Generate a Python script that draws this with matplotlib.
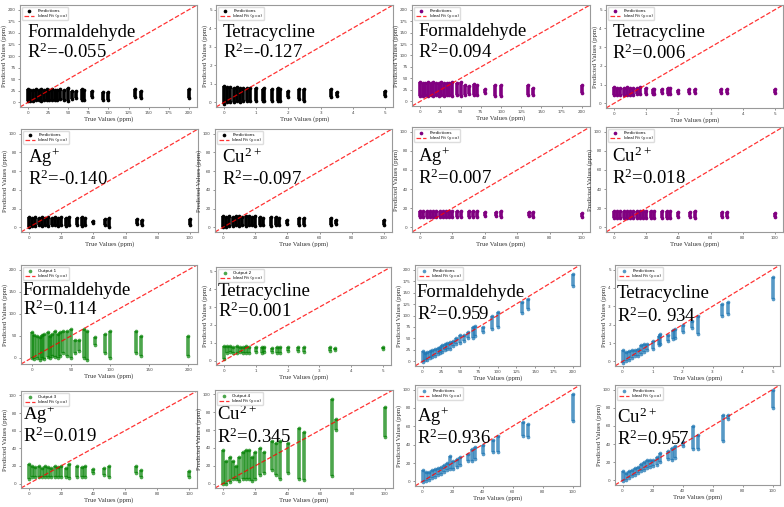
import matplotlib.pyplot as plt

plt.rcParams['mathtext.fontset'] = 'custom'
plt.rcParams['mathtext.rm'] = 'Liberation Serif'
plt.rcParams['mathtext.default'] = 'rm'

# true concentration levels (ppm) for each analyte
F_X = [0, 3, 6, 10, 13, 16, 20, 23, 26, 30, 33, 36, 40, 45, 50, 55, 60, 67, 70, 80, 93, 100, 133, 140, 200]
T_X = [0, 0.1, 0.2, 0.3, 0.4, 0.5, 0.6, 0.7, 0.8, 1.0, 1.2, 1.25, 1.5, 1.67, 1.75, 2.0, 2.33, 2.5, 3.33, 3.5, 5.0]
M_X = [0, 2, 4, 6, 8, 10, 12, 14, 16, 18, 20, 23, 25, 30, 33, 35, 40, 47, 50, 67, 70, 100]

# predicted value spread per level (low / high), one pair per panel
black_f_lo = [3, 4, 4, 5, 5, 4, 5, 5, 6, 6, 5, 6, 7, 6, 4, 8, 9, 5, 5, 12, 5, 6, 12, 10, 10]
black_f_hi = [28, 26, 27, 28, 27, 28, 26, 28, 27, 28, 26, 27, 28, 27, 30, 25, 24, 28, 27, 25, 22, 22, 28, 25, 28]
black_t_lo = [-0.1, 0, 0, 0, 0.05, 0, 0.05, 0.05, 0.1, 0.05, 0.1, 0.05, 0.1, 0.05, 0.05, 0.3, 0.2, 0.1, 0.3, 0.35, 0.35]
black_t_hi = [0.9, 0.85, 0.85, 0.8, 0.85, 0.8, 0.8, 0.75, 0.8, 0.75, 0.7, 0.75, 0.7, 0.75, 0.7, 0.6, 0.7, 0.7, 0.7, 0.55, 0.6]
black_ag_lo = [0, 1, 1, 2, 1, 2, 1, 2, 2, 1, 2, 1, 2, 2, 1, 2, 5, 3, 0, 4, 2, 3]
black_ag_hi = [11, 10, 11, 10, 11, 10, 11, 10, 11, 10, 11, 10, 11, 10, 11, 10, 7, 9, 10, 9, 8, 9]
black_cu_lo = [0, 0, 1, 1, 2, 1, 2, 1, 2, 2, 1, 2, 2, 1, 2, 2, 4, 3, 2, 2, 4, 3]
black_cu_hi = [12, 11, 12, 11, 12, 12, 11, 12, 12, 11, 12, 11, 10, 11, 11, 10, 8, 10, 10, 10, 8, 8]

purple_f_lo = [12, 12, 13, 12, 13, 12, 13, 12, 13, 12, 13, 14, 12, 14, 12, 15, 16, 14, 15, 18, 12, 12, 15, 15, 18]
purple_f_hi = [42, 40, 41, 42, 40, 42, 41, 40, 42, 40, 41, 40, 42, 40, 42, 35, 33, 38, 36, 28, 35, 35, 35, 30, 35]
purple_t_lo = [0.45, 0.45, 0.45, 0.45, 0.45, 0.45, 0.45, 0.5, 0.5, 0.5, 0.5, 0.5, 0.55, 0.5, 0.5, 0.55, 0.55, 0.55, 0.55, 0.55, 0.55]
purple_t_hi = [0.85, 0.8, 0.8, 0.8, 0.85, 0.8, 0.8, 0.8, 0.85, 0.8, 0.75, 0.75, 0.75, 0.8, 0.8, 0.7, 0.75, 0.75, 0.75, 0.75, 0.75]
purple_ag_lo = [11, 11, 11, 11, 11, 11, 11, 11, 11, 11, 11, 11, 11, 11, 11, 11, 12, 12, 11, 12, 11, 11]
purple_ag_hi = [17, 17, 17, 17, 17, 17, 17, 17, 17, 17, 17, 17, 17, 17, 17, 17, 16, 16, 17, 16, 16, 15]
purple_cu_lo = [10, 10, 10, 10, 10, 10, 10, 10, 10, 10, 10, 10, 10, 10, 10, 10, 11, 11, 10, 11, 11, 11]
purple_cu_hi = [17, 17, 17, 17, 17, 17, 17, 17, 17, 17, 17, 17, 17, 17, 17, 17, 16, 16, 17, 16, 16, 15]

green_f_lo = [0, -3, 0, -5, 0, -3, 2, 0, 5, 3, 0, 5, 10, 5, 0, 10, 15, 0, -5, 30, 10, 0, 10, 5, 5]
green_f_hi = [58, 52, 50, 48, 52, 55, 58, 50, 55, 60, 55, 58, 60, 62, 65, 40, 40, 65, 62, 48, 55, 62, 60, 50, 50]
green_t_lo = [0.1, 0.45, 0.5, 0.45, 0.45, 0.5, 0.45, 0.45, 0.45, 0.5, 0.45, 0.5, 0.5, 0.45, 0.45, 0.55, 0.55, 0.5, 0.55, 0.6, 0.65]
green_t_hi = [0.8, 0.8, 0.8, 0.75, 0.8, 0.75, 0.75, 0.8, 0.75, 0.75, 0.75, 0.75, 0.7, 0.75, 0.75, 0.75, 0.75, 0.75, 0.75, 0.7, 0.75]
green_ag_lo = [5, 7, 7, 8, 7, 8, 7, 8, 7, 8, 7, 8, 6, 8, 7, 8, 12, 10, 8, 12, 8, 7]
green_ag_hi = [22, 20, 19, 20, 18, 20, 19, 18, 20, 19, 20, 18, 22, 20, 19, 20, 16, 18, 20, 20, 15, 14]
green_cu_lo = [0, 0, 2, 5, 5, 3, 5, 5, 5, 3, 5, 10, 12, 15, 10, 5, 12, 5, 4, 8, 60, 52]
green_cu_hi = [38, 25, 30, 25, 20, 30, 35, 38, 38, 30, 35, 40, 35, 48, 45, 48, 45, 62, 58, 95, 73, 86]

blue_f_lo = [-2, 2, 4, 8, 10, 12, 16, 18, 20, 25, 27, 28, 33, 38, 40, 45, 50, 50, 55, 65, 70, 75, 105, 115, 165]
blue_f_hi = [22, 18, 20, 22, 25, 26, 30, 32, 35, 38, 40, 42, 45, 50, 58, 58, 65, 75, 78, 75, 100, 108, 130, 135, 190]
blue_t_lo = [-0.1, 0, 0.1, 0.2, 0.3, 0.3, 0.4, 0.5, 0.6, 0.7, 0.9, 0.95, 1.1, 1.2, 1.25, 1.6, 1.8, 1.5, 2.5, 2.6, 3.4]
blue_t_hi = [0.6, 0.5, 0.55, 0.6, 0.6, 0.7, 0.9, 0.95, 0.95, 1.1, 1.4, 1.5, 1.45, 1.7, 1.75, 2.0, 2.2, 2.5, 3.1, 3.25, 4.6]
blue_ag_lo = [-1, 0, 2, 4, 5, 7, 8, 10, 12, 14, 14, 16, 18, 22, 22, 24, 30, 32, 32, 50, 48, 66]
blue_ag_hi = [12, 10, 10, 12, 13, 15, 16, 18, 20, 28, 22, 24, 27, 30, 35, 38, 40, 45, 50, 65, 63, 95]
blue_cu_lo = [-1, 1, 3, 5, 6, 8, 10, 12, 14, 15, 16, 17, 20, 24, 22, 25, 38, 35, 35, 43, 68, 80]
blue_cu_hi = [10, 8, 10, 12, 14, 15, 18, 20, 22, 22, 22, 26, 30, 32, 36, 38, 42, 60, 50, 72, 72, 99]

NAMES = ['Formaldehyde', 'Tetracycline', r'Ag$^{+}$', r'Cu$^{2+}$']
R2_BLACK = ['-0.055', '-0.127', '-0.140', '-0.097']
R2_PURPLE = ['0.094', '0.006', '0.007', '0.018']
R2_GREEN = ['0.114', '0.001', '0.019', '0.345']
R2_BLUE = ['0.959', '0. 934', '0.936', '0.957']
GREEN_LABELS = ['Output 1', 'Output 2', 'Output 3', 'Output 4']

W, H = 784, 507
fig = plt.figure(figsize=(W / 100, H / 100), dpi=100)


def box(l, t, r, b):
    return [l / W, 1 - b / H, (r - l) / W, (b - t) / H]


def panel(rect, xs, lo, hi, color, label, name, r2, lims, ticks,
          txt_x, y1, y2, alpha=1.0, lw=2.6):
    ax = fig.add_axes(box(*rect))
    ax.vlines(xs, lo, hi, colors=color, lw=lw, alpha=alpha)
    ax.scatter(xs, lo, s=7, color=color, alpha=alpha, label=label, lw=0)
    ax.scatter(xs, hi, s=7, color=color, alpha=alpha, lw=0)
    ax.plot(lims, lims, color='red', ls='--', lw=0.9, alpha=0.8, label='Ideal Fit (y=x)')
    ax.set_xlim(lims)
    ax.set_ylim(lims)
    ax.set_xticks(ticks)
    ax.set_yticks(ticks)
    ax.tick_params(labelsize=3, length=1.5, width=0.4, pad=1.5, colors='#444444')
    for s in ax.spines.values():
        s.set_color('#999999')
        s.set_linewidth(0.8)
    ax.set_xlabel('True Values (ppm)', family='Liberation Serif', fontsize=4.8, labelpad=1, color='#333333')
    ax.set_ylabel('Predicted Values (ppm)', family='Liberation Serif', fontsize=4.8, labelpad=1, color='#333333')
    ax.legend(loc='upper left', fontsize=3, markerscale=1.0, handlelength=2.5,
              borderpad=0.4, labelspacing=0.3, framealpha=1, edgecolor='#dddddd')
    ax.text(txt_x, y1, name, transform=ax.transAxes, family='Liberation Serif', fontsize=13.5)
    ax.text(txt_x, y2, 'R$^{2}$=' + r2, transform=ax.transAxes, family='Liberation Serif', fontsize=13.5)
    return ax


F_LIM, T_LIM, M_LIM = (-10, 210), (-0.25, 5.25), (-5, 105)
F_TK = [0, 25, 50, 75, 100, 125, 150, 175, 200]
F_TK_G = [0, 50, 100, 150, 200]
T_TK = [0, 1, 2, 3, 4, 5]
M_TK = [0, 20, 40, 60, 80, 100]

# top-left: black
c = 'black'
panel((20, 5, 197, 107), F_X, black_f_lo, black_f_hi, c, 'Predictions', NAMES[0], R2_BLACK[0], F_LIM, F_TK, 0.04, 0.69, 0.48)
panel((216, 5, 393, 107), T_X, black_t_lo, black_t_hi, c, 'Predictions', NAMES[1], R2_BLACK[1], T_LIM, T_TK, 0.04, 0.69, 0.48)
panel((21, 129, 198, 232), M_X, black_ag_lo, black_ag_hi, c, 'Predictions', NAMES[2], R2_BLACK[2], M_LIM, M_TK, 0.04, 0.67, 0.46)
panel((215, 129, 392, 232), M_X, black_cu_lo, black_cu_hi, c, 'Predictions', NAMES[3], R2_BLACK[3], M_LIM, M_TK, 0.04, 0.67, 0.46)

# top-right: purple
c = 'purple'
panel((412, 5, 590, 106), F_X, purple_f_lo, purple_f_hi, c, 'Predictions', NAMES[0], R2_PURPLE[0], F_LIM, F_TK, 0.035, 0.69, 0.48)
panel((606, 5, 783, 108), T_X, purple_t_lo, purple_t_hi, c, 'Predictions', NAMES[1], R2_PURPLE[1], T_LIM, T_TK, 0.035, 0.69, 0.48)
panel((412, 127, 590, 232), M_X, purple_ag_lo, purple_ag_hi, c, 'Predictions', NAMES[2], R2_PURPLE[2], M_LIM, M_TK, 0.035, 0.67, 0.46)
panel((606, 127, 783, 232), M_X, purple_cu_lo, purple_cu_hi, c, 'Predictions', NAMES[3], R2_PURPLE[3], M_LIM, M_TK, 0.035, 0.67, 0.46)

# bottom-left: green
c = 'green'
panel((21, 265, 197, 364), F_X, green_f_lo, green_f_hi, c, GREEN_LABELS[0], NAMES[0], R2_GREEN[0], (-14, 211), F_TK_G, 0.01, 0.70, 0.49, alpha=0.7)
panel((216, 267, 391, 365), T_X, green_t_lo, green_t_hi, c, GREEN_LABELS[1], NAMES[1], R2_GREEN[1], T_LIM, T_TK, 0.01, 0.70, 0.49, alpha=0.7)
panel((21, 391, 197, 488), M_X, green_ag_lo, green_ag_hi, c, GREEN_LABELS[2], NAMES[2], R2_GREEN[2], M_LIM, M_TK, 0.01, 0.70, 0.47, alpha=0.7)
panel((215, 390, 393, 488), M_X, green_cu_lo, green_cu_hi, c, GREEN_LABELS[3], NAMES[3], R2_GREEN[3], M_LIM, M_TK, 0.01, 0.69, 0.46, alpha=0.7)

# bottom-right: blue
c = '#1f77b4'
panel((415, 265, 580, 366), F_X, blue_f_lo, blue_f_hi, c, 'Predictions', NAMES[0], R2_BLUE[0], F_LIM, F_TK, 0.01, 0.68, 0.46, alpha=0.75)
panel((615, 265, 780, 366), T_X, blue_t_lo, blue_t_hi, c, 'Predictions', NAMES[1], R2_BLUE[1], T_LIM, T_TK, 0.01, 0.67, 0.44, alpha=0.75)
panel((415, 385, 580, 486), M_X, blue_ag_lo, blue_ag_hi, c, 'Predictions', NAMES[2], R2_BLUE[2], M_LIM, M_TK, 0.01, 0.63, 0.42, alpha=0.75)
panel((615, 385, 780, 485), M_X, blue_cu_lo, blue_cu_hi, c, 'Predictions', NAMES[3], R2_BLUE[3], M_LIM, M_TK, 0.01, 0.62, 0.40, alpha=0.75)

fig.savefig('out.png', dpi=100)
